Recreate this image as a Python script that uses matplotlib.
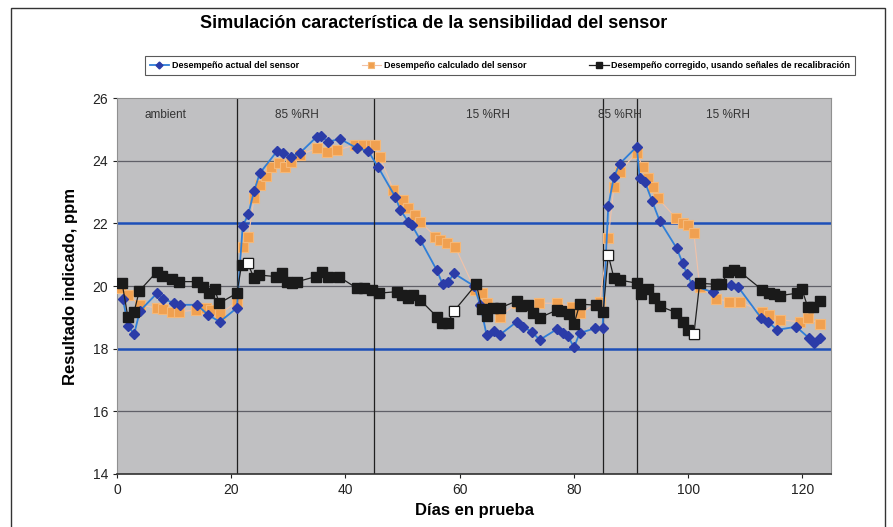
import matplotlib.pyplot as plt
from matplotlib.patches import Rectangle

plt.rcParams['font.family'] = ['Liberation Sans', 'DejaVu Sans']

# Desempeño actual del sensor
dias_actual = [1, 2, 3, 4, 7, 8, 10, 11, 14, 16, 18, 21,
               22, 23, 24, 25, 28, 29, 30.5, 32, 35, 35.7, 37, 39, 42, 44, 45.7,
               48.7, 49.6, 51, 51.6, 53.1, 56, 57, 58, 59, 62.5, 63.6, 64.7, 66, 67,
               70, 71, 72.6, 74, 77, 78, 79, 80, 81, 83.7, 85,
               86, 87, 88, 91, 91.5, 92.4, 93.7, 95, 98, 99, 99.8, 100.7, 104.3,
               107.5, 108.7, 112.8, 113.9, 115.6, 118.9, 121.2, 122.1, 123]
val_actual = [19.6, 18.72, 18.46, 19.2, 19.77, 19.6, 19.45, 19.4, 19.4, 19.07, 18.86, 19.3,
              21.9, 22.3, 23.03, 23.6, 24.3, 24.23, 24.13, 24.24, 24.77, 24.8, 24.6, 24.7, 24.4, 24.3, 23.8,
              22.85, 22.43, 22.05, 21.95, 21.47, 20.5, 20.06, 20.14, 20.4, 20.0, 19.4, 18.44, 18.56, 18.44,
              18.86, 18.7, 18.54, 18.28, 18.62, 18.5, 18.39, 18.04, 18.5, 18.65, 18.65,
              22.55, 23.49, 23.9, 24.45, 23.44, 23.33, 22.7, 22.08, 21.2, 20.74, 20.38, 20.03, 19.8,
              20.03, 19.98, 18.97, 18.86, 18.6, 18.7, 18.33, 18.17, 18.33]

# Desempeño calculado del sensor
dias_calc = [0.7, 2, 4, 7, 8, 9.7, 10.8, 13.8, 15.6, 16.4, 18, 21,
             22, 23, 24, 25, 26, 27, 28.4, 29.5, 30.5, 32, 35, 36.8, 38.5, 41.7, 43, 44.4, 45.2,
             46, 48.4, 50, 51, 52.2, 53.1, 55.7, 56.6, 57.8, 59.2, 62.7, 63.9, 64.7, 67, 70, 71,
             73.8, 77, 79.6, 81.1, 84.5,
             86, 87, 88, 91, 92, 93, 93.9, 94.7, 97.9, 99.1, 100, 101, 102, 104.9, 107.2, 109,
             113, 114.2, 116, 119.5, 120.9, 123]
val_calc = [19.93, 19.71, 19.4, 19.29, 19.28, 19.18, 19.18, 19.23, 19.29, 19.23, 19.1, 19.5,
            21.25, 21.57, 22.8, 23.22, 23.5, 23.8, 23.92, 23.8, 23.95, 24.18, 24.4, 24.29, 24.34, 24.5, 24.5, 24.5, 24.5,
            24.13, 23.06, 22.74, 22.48, 22.27, 22.05, 21.58, 21.47, 21.36, 21.25, 19.87, 19.77, 19.45, 19.02, 19.45, 19.4,
            19.45, 19.45, 19.34, 19.13, 19.5,
            21.52, 23.17, 23.65, 24.26, 23.81, 23.44, 23.17, 22.8, 22.16, 22.02, 21.95, 21.68, 19.98, 19.6, 19.5, 19.5,
            19.18, 19.07, 18.92, 18.86, 18.97, 18.8]

# Desempeño corregido, usando señales de recalibración
dias_corr = [0.9, 1.9, 3, 3.9, 7, 7.9, 9.7, 10.9, 14, 15, 16.1, 17.1, 17.9, 21,
             21.8, 22.9, 24, 24.9, 27.8, 28.9, 29.8, 30.7, 31.6, 34.8, 35.9, 37, 38.8, 42, 43.2, 44.7, 45.8,
             49, 49.9, 51, 51.9, 53.1, 56, 56.9, 57.9, 59, 62.9, 63.9, 64.7, 65.9, 67, 70, 70.8, 72, 72.9, 74,
             77, 77.8, 79.2, 80, 81, 83.9, 85.1,
             86, 87, 88, 91, 91.8, 93, 94, 95, 97.9, 99, 100, 101, 102, 104.9, 105.8, 107, 108.1, 109,
             113, 114.2, 115.1, 116, 119, 119.9, 120.9, 121.8, 123]
val_corr = [20.09, 19.02, 19.18, 19.84, 20.46, 20.32, 20.21, 20.14, 20.14, 19.98, 19.77, 19.9, 19.45, 19.77,
            20.67, 20.72, 20.25, 20.35, 20.3, 20.4, 20.14, 20.09, 20.14, 20.3, 20.46, 20.3, 20.3, 19.93, 19.93, 19.87, 19.77,
            19.82, 19.71, 19.61, 19.71, 19.55, 19.02, 18.81, 18.81, 19.2, 20.06, 19.27, 19.05, 19.3, 19.3, 19.52, 19.37, 19.39, 19.13, 18.99,
            19.23, 19.2, 19.1, 18.78, 19.42, 19.39, 19.16,
            20.99, 20.25, 20.19, 20.09, 19.74, 19.9, 19.61, 19.36, 19.15, 18.86, 18.6, 18.47, 20.09, 20.05, 20.05, 20.46, 20.51, 20.46,
            19.87, 19.77, 19.74, 19.69, 19.77, 19.9, 19.34, 19.34, 19.52]

# puntos de recalibración (cuadros blancos)
dias_recal = [22.9, 59, 86, 101]
val_recal = [20.72, 19.2, 20.99, 18.47]

# cambios de humedad
cambios = [21, 45, 85, 91]
etiquetas = ['ambient', '85 %RH', '15 %RH', '85 %RH', '15 %RH']
pos_etiquetas = [8.5, 31.5, 65, 88, 107]

fig = plt.figure(figsize=(8.93, 5.27), dpi=100)
ax = fig.add_axes([0.131, 0.1006, 0.7996, 0.7134])
ax.set_facecolor('#c0c0c2')

ax.plot(dias_calc, val_calc, color='#f2c2a8', lw=0.8, marker='s', ms=6.5,
        mfc='#f0a050', mec='#f5b878', mew=0.8, zorder=3,
        label='Desempeño calculado del sensor')
ax.plot(dias_actual, val_actual, color='#2f7fd8', lw=1.3, marker='D', ms=5,
        mfc='#2b3ca8', mec='#2b3ca8', zorder=4,
        label='Desempeño actual del sensor')
ax.plot(dias_corr, val_corr, color='#202020', lw=0.9, marker='s', ms=7,
        mfc='#1a1a1a', mec='#1a1a1a', zorder=5,
        label='Desempeño corregido, usando señales de recalibración')
ax.plot(dias_recal, val_recal, ls='none', marker='s', ms=7, mfc='white',
        mec='#1a1a1a', mew=0.8, zorder=6)

for y in [16, 20, 24]:
    ax.axhline(y, color='#606068', lw=0.9, zorder=1)
for y in [18, 22]:
    ax.axhline(y, color='#1d4fb8', lw=1.8, zorder=2)
for x in cambios:
    ax.axvline(x, color='#202020', lw=0.9, zorder=2)
for x, t in zip(pos_etiquetas, etiquetas):
    ax.text(x, 25.45, t, ha='center', va='center', fontsize=8.5, color='#333333', zorder=7)

ax.set_xlim(0, 125)
ax.set_ylim(14, 26)
ax.set_xticks(range(0, 121, 20))
ax.set_yticks(range(14, 27, 2))
ax.tick_params(labelsize=10, colors='#222222', length=3)
for s in ['top', 'right', 'left']:
    ax.spines[s].set_color('#909090')
ax.spines['bottom'].set_color('#303030')
ax.spines['bottom'].set_linewidth(1.2)

ax.set_xlabel('Días en prueba', fontsize=12, fontweight='bold', labelpad=4)
ax.set_ylabel('Resultado indicado, ppm', fontsize=12, fontweight='bold', labelpad=10)
fig.text(0.4855, 0.955, 'Simulación característica de la sensibilidad del sensor',
         ha='center', va='center', fontsize=13, fontweight='bold')

h, l = ax.get_legend_handles_labels()
orden = [1, 0, 2]
leg = fig.legend([h[i] for i in orden], [l[i] for i in orden], loc='center', ncol=3,
                 bbox_to_anchor=(145 / 893, 1 - 76 / 527, 710 / 893, 21 / 527),
                 mode='expand', frameon=True, fancybox=False, edgecolor='#303030',
                 prop={'size': 6.5, 'weight': 'bold'}, markerscale=0.7,
                 handlelength=2.2, borderaxespad=0, borderpad=0.5, handletextpad=0.3,
                 columnspacing=1.0)
leg.get_frame().set_linewidth(0.8)

fig.patches.append(Rectangle((11 / 893, -0.01), 874 / 893, 1 - 8 / 527 + 0.01,
                             transform=fig.transFigure, fill=False,
                             edgecolor='#333333', lw=1.0))

fig.savefig('out.png', dpi=100)
